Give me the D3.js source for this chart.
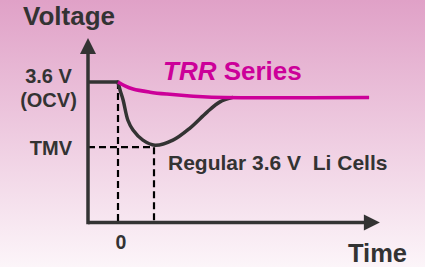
<!DOCTYPE html>
<html>
<head>
<meta charset="utf-8">
<script src="https://cdn.jsdelivr.net/npm/d3@7"></script>
<style>
  body { margin: 0; }
  svg { display: block; font-family: "Liberation Sans", Arial, sans-serif; font-weight: bold; }
</style>
</head>
<body>
<div id="plot"></div>
<script>
// values (schematic units: time, volts)
var ocvTime = [-1, 0];
var ocvVolt = [3.6, 3.6];

var trrTime = [0, 0.23, 0.5, 1.07, 1.63, 2.4, 3.13, 8.37];
var trrVolt = [3.6, 3.5, 3.42, 3.34, 3.29, 3.24, 3.21, 3.2];

var regTime = [0, 0.07, 0.17, 0.33, 0.5, 0.83, 1.23, 1.83, 2.4, 2.97, 3.4, 3.8];
var regVolt = [3.6, 3.39, 3.14, 2.62, 2.37, 2.11, 1.98, 2.11, 2.42, 2.83, 3.09, 3.2];

var ocv = 3.6;
var tmv = 1.93;
var tmvTime = 1.2;
var timeZero = 0;

var width = 425, height = 267;

var svg = d3.select("#plot").append("svg")
    .attr("width", width)
    .attr("height", height);

// background gradient
var grad = svg.append("defs").append("linearGradient")
    .attr("id", "bg")
    .attr("x1", 0).attr("y1", 0).attr("x2", 0).attr("y2", 1);
grad.append("stop").attr("offset", "0%").attr("stop-color", "#e0a1c7");
grad.append("stop").attr("offset", "50%").attr("stop-color", "#eecbe0");
grad.append("stop").attr("offset", "100%").attr("stop-color", "#fcf5f9");

svg.append("rect")
    .attr("width", width)
    .attr("height", height)
    .attr("fill", "url(#bg)");

// scales
var xScale = d3.scaleLinear()
    .domain([-1, 8.4])
    .range([88, 370]);

var yScale = d3.scaleLinear()
    .domain([0, 3.6])
    .range([222.5, 82]);

var ink = "#333333";
var magenta = "#cc0099";

// dashed guides
var guides = svg.append("g")
    .attr("stroke", "#000")
    .attr("stroke-width", 2.2)
    .attr("stroke-dasharray", "7,4")
    .attr("fill", "none");

guides.append("line")
    .attr("x1", xScale(timeZero)).attr("x2", xScale(timeZero))
    .attr("y1", yScale(ocv)).attr("y2", yScale(0));

guides.append("line")
    .attr("x1", xScale(-1)).attr("x2", xScale(tmvTime))
    .attr("y1", yScale(tmv)).attr("y2", yScale(tmv));

guides.append("line")
    .attr("x1", xScale(tmvTime)).attr("x2", xScale(tmvTime))
    .attr("y1", yScale(tmv)).attr("y2", yScale(0));

// curves
var line = d3.line()
    .x(function(d) { return xScale(d[0]); })
    .y(function(d) { return yScale(d[1]); })
    .curve(d3.curveCatmullRom.alpha(0.5));

svg.append("path")
    .datum(d3.zip(ocvTime, ocvVolt))
    .attr("d", line)
    .attr("fill", "none")
    .attr("stroke", ink)
    .attr("stroke-width", 3.5);

svg.append("path")
    .datum(d3.zip(regTime, regVolt))
    .attr("d", line)
    .attr("fill", "none")
    .attr("stroke", ink)
    .attr("stroke-width", 3.5)
    .attr("stroke-linecap", "round");

svg.append("path")
    .datum(d3.zip(trrTime, trrVolt))
    .attr("d", line)
    .attr("fill", "none")
    .attr("stroke", magenta)
    .attr("stroke-width", 3.5);

// axes with arrow heads
var x0 = xScale(-1), y0 = yScale(0);
var yTop = yScale(4.73), xEnd = xScale(8.73);

svg.append("line")
    .attr("x1", x0).attr("x2", x0)
    .attr("y1", y0 + 1.75).attr("y2", yTop + 14)
    .attr("stroke", ink).attr("stroke-width", 3.5);

svg.append("path")
    .attr("d", "M" + x0 + "," + yTop + "L" + (x0 + 8) + "," + (yTop + 16) + "L" + (x0 - 8) + "," + (yTop + 16) + "Z")
    .attr("fill", ink);

svg.append("line")
    .attr("x1", x0).attr("x2", xEnd - 14)
    .attr("y1", y0).attr("y2", y0)
    .attr("stroke", ink).attr("stroke-width", 3.5);

svg.append("path")
    .attr("d", "M" + xEnd + "," + y0 + "L" + (xEnd - 16) + "," + (y0 - 8) + "L" + (xEnd - 16) + "," + (y0 + 8) + "Z")
    .attr("fill", ink);

// labels
svg.append("text")
    .attr("x", 23).attr("y", 25)
    .attr("font-size", 26)
    .attr("fill", ink)
    .text("Voltage");

svg.append("text")
    .attr("x", 48.5).attr("y", yScale(ocv) + 1)
    .attr("text-anchor", "middle")
    .attr("font-size", 20)
    .attr("fill", ink)
    .text("3.6 V");

svg.append("text")
    .attr("x", 48.5).attr("y", yScale(ocv) + 25)
    .attr("text-anchor", "middle")
    .attr("font-size", 20)
    .attr("fill", ink)
    .text("(OCV)");

svg.append("text")
    .attr("x", 72).attr("y", yScale(tmv) + 8)
    .attr("text-anchor", "end")
    .attr("font-size", 20)
    .attr("fill", ink)
    .text("TMV");

svg.append("text")
    .attr("x", xScale(timeZero) + 3).attr("y", 249)
    .attr("text-anchor", "middle")
    .attr("font-size", 19.5)
    .attr("fill", ink)
    .text("0");

svg.append("text")
    .attr("x", 348).attr("y", 261.5)
    .attr("font-size", 25.5)
    .attr("fill", ink)
    .text("Time");

var trrLabel = svg.append("text")
    .attr("x", 163).attr("y", 80)
    .attr("font-size", 26)
    .attr("fill", magenta);
trrLabel.append("tspan").attr("font-style", "italic").text("TRR");
trrLabel.append("tspan").text(" Series");

svg.append("text")
    .attr("x", 168).attr("y", 170)
    .attr("font-size", 21)
    .attr("fill", ink)
    .style("white-space", "pre")
    .text("Regular 3.6 V  Li Cells");
</script>
</body>
</html>
